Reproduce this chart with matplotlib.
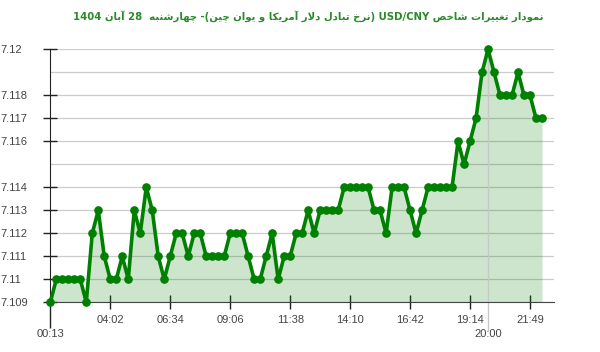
import re
import numpy as np
import matplotlib
matplotlib.use("Agg")
import matplotlib.pyplot as plt

# datos (USD/CNY, 28 آبان 1404)
valores = [
    7.109, 7.110, 7.110, 7.110, 7.110, 7.110, 7.109, 7.112, 7.113, 7.111,
    7.110, 7.110, 7.111, 7.110, 7.113, 7.112, 7.114, 7.113, 7.111, 7.110,
    7.111, 7.112, 7.112, 7.111, 7.112, 7.112, 7.111, 7.111, 7.111, 7.111,
    7.112, 7.112, 7.112, 7.111, 7.110, 7.110, 7.111, 7.112, 7.110, 7.111,
    7.111, 7.112, 7.112, 7.113, 7.112, 7.113, 7.113, 7.113, 7.113, 7.114,
    7.114, 7.114, 7.114, 7.114, 7.113, 7.113, 7.112, 7.114, 7.114, 7.114,
    7.113, 7.112, 7.113, 7.114, 7.114, 7.114, 7.114, 7.114, 7.116, 7.115,
    7.116, 7.117, 7.119, 7.120, 7.119, 7.118, 7.118, 7.118, 7.119, 7.118,
    7.118, 7.117, 7.117,
]

etiquetas_x = ["04:02", "06:34", "09:06", "11:38", "14:10", "16:42", "19:14", "21:49"]
indices_x = [10, 20, 30, 40, 50, 60, 70, 80]
etiquetas_x2 = ["00:13", "20:00"]
indices_x2 = [0, 73]

niveles_y = [7.109, 7.110, 7.111, 7.112, 7.113, 7.114, 7.115, 7.116, 7.117, 7.118, 7.119, 7.120]
etiquetas_y = ["7.109", "7.11", "7.111", "7.112", "7.113", "7.114", "7.116", "7.117", "7.118", "7.12"]
ticks_y = [7.109, 7.110, 7.111, 7.112, 7.113, 7.114, 7.116, 7.117, 7.118, 7.120]

titulo = "نمودار تغییرات شاخص USD/CNY (نرخ تبادل دلار آمریکا و یوان چین)- چهارشنبه  28 آبان 1404"

# formas contextuales (aislada, final, inicial, medial)
FORMAS = {
    "آ": ("\uFE81", "\uFE82", None, None),
    "ا": ("\uFE8D", "\uFE8E", None, None),
    "ب": ("\uFE8F", "\uFE90", "\uFE91", "\uFE92"),
    "ت": ("\uFE95", "\uFE96", "\uFE97", "\uFE98"),
    "خ": ("\uFEA5", "\uFEA6", "\uFEA7", "\uFEA8"),
    "د": ("\uFEA9", "\uFEAA", None, None),
    "ر": ("\uFEAD", "\uFEAE", None, None),
    "ش": ("\uFEB5", "\uFEB6", "\uFEB7", "\uFEB8"),
    "ص": ("\uFEB9", "\uFEBA", "\uFEBB", "\uFEBC"),
    "غ": ("\uFECD", "\uFECE", "\uFECF", "\uFED0"),
    "ل": ("\uFEDD", "\uFEDE", "\uFEDF", "\uFEE0"),
    "م": ("\uFEE1", "\uFEE2", "\uFEE3", "\uFEE4"),
    "ن": ("\uFEE5", "\uFEE6", "\uFEE7", "\uFEE8"),
    "ه": ("\uFEE9", "\uFEEA", "\uFEEB", "\uFEEC"),
    "و": ("\uFEED", "\uFEEE", None, None),
    "ی": ("\uFBFC", "\uFBFD", "\uFBFE", "\uFBFF"),
    "ک": ("\uFB8E", "\uFB8F", "\uFB90", "\uFB91"),
    "چ": ("\uFB7A", "\uFB7B", "\uFB7C", "\uFB7D"),
}


def une_izq(c):
    return c in FORMAS and FORMAS[c][2] is not None


def formar_palabra(palabra):
    salida = []
    i = 0
    while i < len(palabra):
        c = palabra[i]
        previo = i > 0 and une_izq(palabra[i - 1])
        # ligadura lam-alef
        if c == "ل" and i + 1 < len(palabra) and palabra[i + 1] in ("ا", "آ"):
            if palabra[i + 1] == "ا":
                salida.append("\uFEFC" if previo else "\uFEFB")
            else:
                salida.append("\uFEF6" if previo else "\uFEF5")
            i += 2
            continue
        siguiente = i + 1 < len(palabra) and palabra[i + 1] in FORMAS
        aisl, fin, ini, med = FORMAS.get(c, (c, c, None, None))
        if previo and siguiente and med:
            salida.append(med)
        elif previo:
            salida.append(fin)
        elif siguiente and ini:
            salida.append(ini)
        else:
            salida.append(aisl)
        i += 1
    return "".join(salida)[::-1]


def texto_visual(texto):
    espejo = str.maketrans("()", ")(")
    tokens = re.findall(r"[\u0600-\u06FF]+|[A-Za-z0-9/.]+|[^\u0600-\u06FFA-Za-z0-9/.]+", texto)
    partes = []
    for t in reversed(tokens):
        if re.match(r"[\u0600-\u06FF]", t):
            partes.append(formar_palabra(t))
        elif re.match(r"[A-Za-z0-9/.]", t):
            partes.append(t)
        else:
            partes.append(t[::-1].translate(espejo))
    return "".join(partes)


verde = "#008000"
gris_txt = "#444444"

fig = plt.figure(figsize=(6, 3.52), dpi=100)
ax = fig.add_axes([50.3 / 600, 1 - 302.3 / 352, (554 - 50.3) / 600, (302.3 - 49.3) / 352])

x = np.arange(len(valores))
ax.set_xlim(0, 84)
ax.set_ylim(7.109, 7.120)

# relleno y linea
ax.fill_between(x, valores, 7.109, color=verde, alpha=0.2, linewidth=0, zorder=2)
ax.axvline(indices_x2[1], ymin=-0.11, ymax=1.0, color="#c8c8c8", linewidth=1, clip_on=False, zorder=2.5)
ax.plot(x, valores, color=verde, linewidth=2.6, marker="o", markersize=5.2,
        markerfacecolor=verde, markeredgecolor=verde, clip_on=False, zorder=4)

# grilla horizontal
for nivel in niveles_y:
    ax.axhline(nivel, color="#cccccc", linewidth=0.9, zorder=1)

ax.set_yticks(ticks_y)
ax.set_yticklabels(etiquetas_y)
ax.set_xticks(indices_x)
ax.set_xticklabels(etiquetas_x)
ax.set_xticks(indices_x2, minor=True)
ax.set_xticklabels(etiquetas_x2, minor=True)

ax.tick_params(axis="y", direction="inout", length=10, width=1, color="#222222",
               labelsize=8, labelcolor=gris_txt, pad=31)
for et in ax.get_yticklabels():
    et.set_horizontalalignment("left")
    et.set_fontfamily("Liberation Sans")
ax.tick_params(axis="x", which="major", direction="inout", length=10, width=1, color="#222222",
               labelsize=8, labelcolor=gris_txt, pad=4)
ax.tick_params(axis="x", which="minor", direction="out", length=19, width=1, color="#222222",
               labelsize=8, labelcolor=gris_txt, pad=0)
for et in ax.get_xticklabels() + ax.get_xticklabels(minor=True):
    et.set_fontfamily("Liberation Sans")
ax.xaxis.get_minor_ticks()[1].tick1line.set_visible(False)

for lado in ("top", "right"):
    ax.spines[lado].set_visible(False)
ax.spines["left"].set_color("#222222")
ax.spines["bottom"].set_color("#444444")
ax.set_facecolor("none")

fig.text(308 / 600, 1 - 17 / 352, texto_visual(titulo), ha="center", va="center",
         fontsize=7.3, fontweight="bold", color="#2a8a2a", family=["DejaVu Sans"])

fig.savefig("out.png", dpi=100)
